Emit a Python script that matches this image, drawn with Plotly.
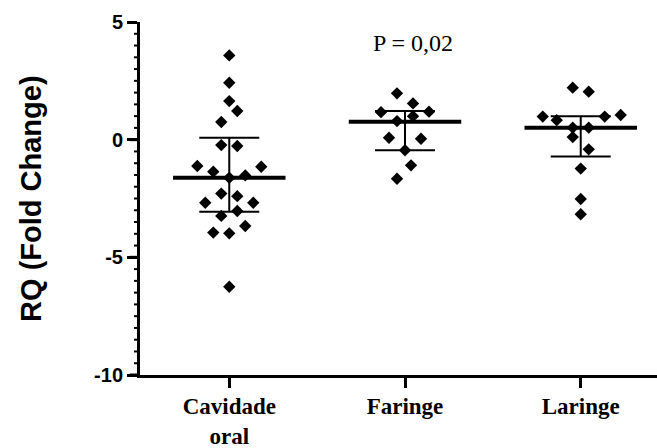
import plotly.graph_objects as go

# ---- data ----
categories = ["Cavidade<br>oral", "Faringe", "Laringe"]

cavidade_vals = [3.58, 2.42, 1.64, 1.22, 0.75, -0.23, -0.27, -1.12, -1.36, -1.15, -1.62,
                 -1.52, -2.29, -2.40, -2.68, -2.68, -3.03, -3.24, -3.95, -3.98, -3.67, -6.25]
cavidade_jitter = [0, 0, 0, 1, -1, -1, 1, -4, -2, 4, 0, 2, -1, 1, -3, 3, 1, -1, -2, 0, 2, 0]

faringe_vals = [1.97, 1.54, 1.17, 1.19, 1.00, 0.79, 0.08, 0.04, -0.45, -1.09, -1.66]
faringe_jitter = [-1, 1, -3, 3, 1, -1, -2, 2, 0, 0.75, -1]

laringe_vals = [2.21, 2.04, 0.98, 0.83, 0.98, 1.05, 0.51, 0.51, 0.11, -0.41, -1.23, -2.52, -3.17]
laringe_jitter = [-1, 1, -4.75, -3, 3, 5, -1, 1, -1, 1, 0, 0, 0]

center_vals = [-1.62, 0.76, 0.51]
upper_vals = [0.08, 1.22, 1.00]
lower_vals = [-3.06, -0.45, -0.72]

y_range = [-10, 5]
y_tickvals = [-10, -5, 0, 5]
y_ticktext = ["-10", "-5", "0", "5"]
y_minor_step = 0.5
p_label = "P = 0,02"
y_title = "RQ (Fold Change)"

# ---- styling ----
W, H = 657, 448
ML, MR, MT, MB = 140, 0, 22, 73
SLOT = 0.0455       # swarm slot width in category units
HALF_MEAN = 0.32    # half length of central line in category units
MINOR_LEN = 6       # px
MAJOR_LEN = 10      # px

fig = go.Figure()

# central lines
mx, my = [], []
for i, c in enumerate(center_vals):
    mx += [i - HALF_MEAN, i + HALF_MEAN, None]
    my += [c, c, None]
fig.add_trace(go.Scatter(x=mx, y=my, mode="lines",
                         line=dict(color="black", width=4), hoverinfo="skip",
                         showlegend=False))

# error bars
fig.add_trace(go.Scatter(
    x=list(range(len(categories))), y=center_vals, mode="markers",
    marker=dict(size=1, color="rgba(0,0,0,0)"),
    error_y=dict(type="data", symmetric=False,
                 array=[u - c for u, c in zip(upper_vals, center_vals)],
                 arrayminus=[c - l for c, l in zip(center_vals, lower_vals)],
                 color="black", thickness=2, width=30),
    showlegend=False, hoverinfo="skip"))

# points
groups = [(cavidade_vals, cavidade_jitter), (faringe_vals, faringe_jitter),
          (laringe_vals, laringe_jitter)]
for gi, (vals, jit) in enumerate(groups):
    fig.add_trace(go.Scatter(
        x=[gi + j * SLOT for j in jit], y=vals, mode="markers",
        marker=dict(symbol="diamond", size=9.5, color="black"),
        showlegend=False, cliponaxis=False))

# y-axis ticks drawn as shapes positioned through the y scale
n_minor = int(round((y_range[1] - y_range[0]) / y_minor_step))
plot_w = W - ML - MR
for k in range(n_minor + 1):
    v = y_range[0] + k * y_minor_step
    major = v in y_tickvals
    fig.add_shape(type="line", xref="paper", yref="y", layer="above",
                  x0=-(MAJOR_LEN if major else MINOR_LEN) / plot_w, x1=0, y0=v, y1=v,
                  line=dict(color="black", width=3 if major else 2))

fig.add_annotation(text=p_label, xref="paper", yref="paper", x=0.528, y=0.94,
                   xanchor="center", yanchor="middle", showarrow=False,
                   font=dict(family="Liberation Serif", size=24, color="black"))

fig.add_annotation(text=y_title, xref="paper", yref="paper", x=-0.212, y=0.5,
                   xanchor="center", yanchor="middle", showarrow=False, textangle=-90,
                   font=dict(family="Liberation Sans", size=29, color="black", weight="bold"))

fig.update_layout(
    width=W, height=H,
    margin=dict(l=ML, r=MR, t=MT, b=MB, autoexpand=False),
    paper_bgcolor="white", plot_bgcolor="white",
    xaxis=dict(range=[-0.508, 2.434], tickmode="array", tickvals=[0, 1, 2],
               ticktext=categories, ticks="outside", ticklen=10, tickwidth=3,
               tickcolor="black", showline=True, linewidth=3, linecolor="black",
               showgrid=False, zeroline=False, automargin=False, ticklabelstandoff=-2,
               tickfont=dict(family="Liberation Serif", size=23, color="black", weight="bold")),
    yaxis=dict(range=y_range, tickmode="array", tickvals=y_tickvals, ticktext=y_ticktext,
               ticks="outside", ticklen=MAJOR_LEN, tickwidth=3, tickcolor="black",
               showline=True, linewidth=3, linecolor="black",
               showgrid=False, zeroline=False, automargin=False,
               tickfont=dict(family="Liberation Sans", size=20, color="black", weight="bold")),
)

fig.write_html("out.html")
